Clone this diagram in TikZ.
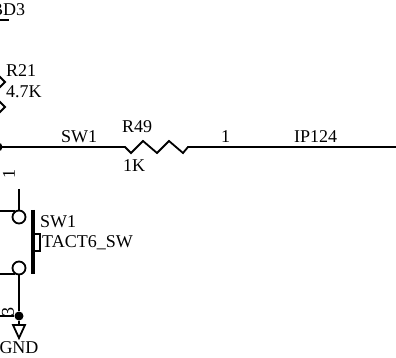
\documentclass[tikz,border=0pt]{standalone}
\usepackage{fontspec}
\setmainfont{Liberation Serif}
\begin{document}
\begin{tikzpicture}[x=1pt,y=-1pt,
  wire/.style={draw=black,line width=1.8pt,line join=miter},
  thick wire/.style={draw=black,line width=3.2pt},
  lbl/.style={inner sep=0pt,anchor=base west,text=black,font=\fontsize{18}{18}\selectfont},
  rot lbl/.style={inner sep=0pt,anchor=center,rotate=90,text=black,font=\fontsize{18}{18}\selectfont},
  contact/.style={circle,draw=black,line width=1.8pt,minimum size=13pt,inner sep=0pt,fill=white},
  junction/.style={circle,fill=black,minimum size=9pt,inner sep=0pt}]
\useasboundingbox (0,0) rectangle (396,358);
\clip (0,0) rectangle (396,358);
% coordinates
\coordinate (wl) at (-2,147);
\coordinate (r49a) at (125,147);
\coordinate (r49b) at (188,147);
\coordinate (wr) at (398,147);
\coordinate (top1) at (19,189);
\coordinate (sl1) at (-2,211);
\coordinate (sl2) at (-2,274);
\coordinate (gl) at (-2,316);
\coordinate (gt) at (19,325);
\node[junction] (j1) at (-2,147) {};
\node[junction] (j2) at (19,316) {};
\node[contact] (c1) at (19,217) {};
\node[contact] (c2) at (19,268) {};
% wires
\draw[wire] (wl) -- (r49a) -- (131,153) -- (143,141) -- (157,153) -- (169,141) -- (183,153) -- (r49b) -- (wr);
\draw[wire] (top1) -- (c1);
\draw[wire] (sl1) -- (15,211);
\draw[wire] (sl2) -- (15,274);
\draw[wire] (c2) -- (j2);
\draw[wire] (gl) -- (j2);
\draw[wire] (j2) -- (gt);
% R21 zigzag
\draw[wire] (-2,75) -- (5,82) -- (-2,89);
\draw[wire] (-2,100) -- (5,107) -- (-2,114);
% switch
\draw[thick wire] (33,210) -- (33,274);
\draw[draw=black,line width=1.5pt] (33,234) rectangle (40,251);
% GND
\draw[wire] (13,325) -- (25,325) -- (19,338) -- cycle;
% top underline
\draw[draw=black,line width=1.5pt] (-2,20) -- (9,20);
% labels
\node[lbl] (t0) at (-9,16) {BD3};
\node[lbl] (t1) at (6,77) {R21};
\node[lbl] (t2) at (6,98) {4.7K};
\node[lbl] (t3) at (61,143) {SW1};
\node[lbl] (t4) at (122,133) {R49};
\node[lbl] (t5) at (123,172) {1K};
\node[lbl] (t6) at (221,143) {1};
\node[lbl] (t7) at (294,143) {IP124};
\node[lbl] (t8) at (40,227) {SW1};
\node[lbl] (t9) at (42,247) {TACT6\_SW};
\node[lbl,anchor=base] (t10) at (19,353) {GND};
\node[rot lbl] (t11) at (9,174) {1};
\node[rot lbl] (t12) at (8,312) {3};
\end{tikzpicture}
\end{document}
